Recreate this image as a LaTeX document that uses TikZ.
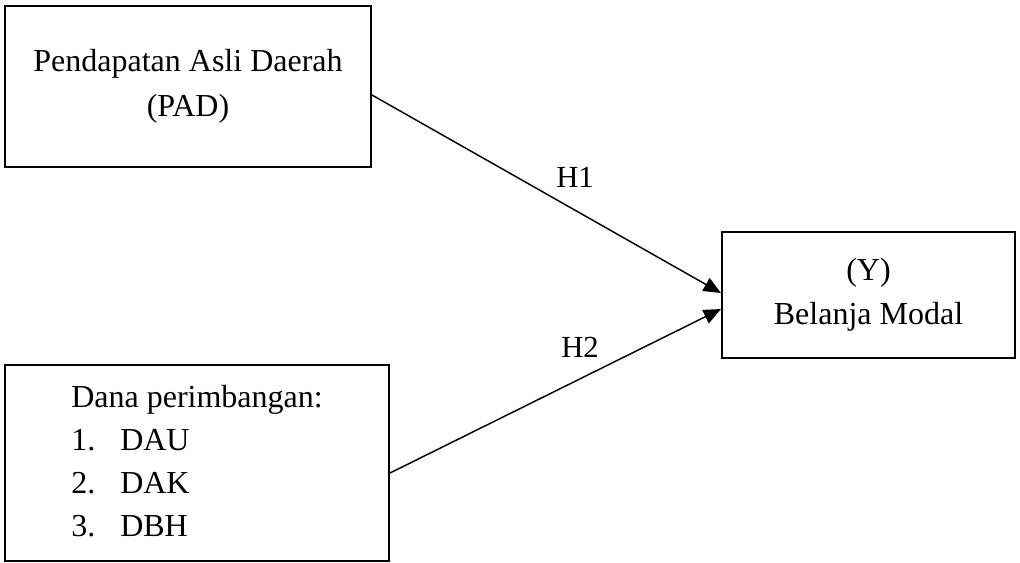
\documentclass[tikz,border=0pt]{standalone}
\usepackage{fontspec}
\setmainfont{Liberation Serif}
\usetikzlibrary{arrows.meta}
\begin{document}
\begin{tikzpicture}[x=0.75pt,y=-0.75pt,
  box/.style={draw=black,line width=1.5pt,rectangle,inner sep=0pt,
    font=\fontsize{24}{33}\selectfont},
  conn/.style={line width=1.1pt,-{Triangle[length=13pt,width=11pt]}},
  hlabel/.style={font=\fontsize{23}{28}\selectfont,inner sep=0pt}]
\useasboundingbox (0,0) rectangle (1020,563);
\node[box,minimum width=366*0.75pt,minimum height=161*0.75pt,align=center] (pad) at (188,86.5)
  {Pendapatan Asli Daerah\\[1pt](PAD)};
\node[box,minimum width=384*0.75pt,minimum height=196*0.75pt] (dp) at (197,463)
  {\fontsize{24}{32.3}\selectfont\begin{tabular}{@{}l@{}}
   Dana perimbangan:\\
   \makebox[36.75pt][l]{1.}DAU\\
   \makebox[36.75pt][l]{2.}DAK\\
   \makebox[36.75pt][l]{3.}DBH
  \end{tabular}};
\node[box,minimum width=293*0.75pt,minimum height=126*0.75pt,align=center] (bm) at (868.5,295)
  {\fontsize{24}{30}\selectfont (Y)\\Belanja Modal};
\draw[conn] ([yshift=-6.4pt]pad.east) -- ([yshift=1.5pt]bm.west);
\draw[conn] ([yshift=-7.5pt]dp.east) -- ([yshift=-10.5pt]bm.west);
\node[hlabel] (h1) at (575,177) {H1};
\node[hlabel] (h2) at (580,347) {H2};
\end{tikzpicture}
\end{document}
